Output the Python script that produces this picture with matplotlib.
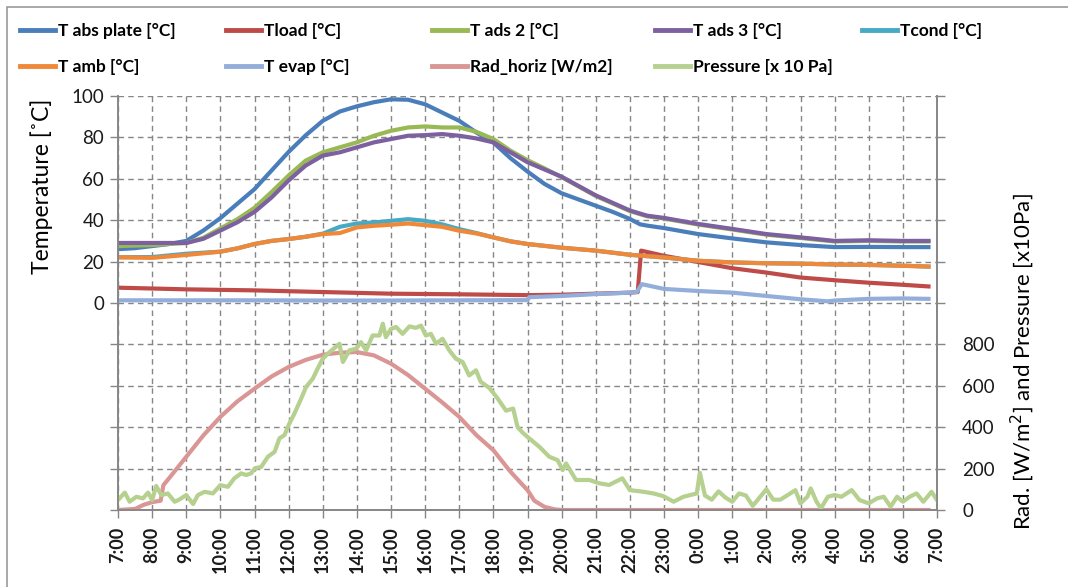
import numpy as np
import matplotlib.pyplot as plt
from matplotlib.patches import Rectangle

plt.rcParams['font.family'] = ['Lato', 'DejaVu Sans']

# time axis: hours elapsed since 7:00
hour_labels = ['7:00', '8:00', '9:00', '10:00', '11:00', '12:00', '13:00', '14:00',
               '15:00', '16:00', '17:00', '18:00', '19:00', '20:00', '21:00', '22:00',
               '23:00', '0:00', '1:00', '2:00', '3:00', '4:00', '5:00', '6:00', '7:00']

# T abs plate [°C]
t_plate = [0, 0.5, 1, 1.5, 2, 2.5, 3, 3.5, 4, 4.5, 5, 5.5, 6, 6.5, 7, 7.5, 8, 8.5, 9, 9.5,
           10, 10.5, 11, 11.5, 12, 12.5, 13, 13.5, 14, 14.5, 15, 15.3, 15.5, 16, 17, 18, 19,
           20, 21, 22, 23, 23.75]
v_plate = [26, 26.5, 27.5, 28.5, 30, 35, 41, 48, 55, 64, 73, 81, 88, 92.5, 95, 97, 98.4, 98.2,
           96, 92, 88, 82.4, 77.5, 70, 63.5, 57.5, 53, 50, 47, 44, 40.6, 38, 37.4, 36.2, 33.3,
           31.2, 29.3, 28, 27, 27.1, 27, 27]

# Tload [°C]
t_load = [0, 2, 4, 6, 8, 10, 12, 13, 14, 15, 15.23, 15.33, 16, 17, 18, 19, 20, 21, 22, 23, 23.75]
v_load = [7.4, 6.6, 6.1, 5.3, 4.5, 4.2, 3.8, 4.0, 4.5, 5.0, 5.3, 25.3, 22.8, 19.8, 16.8, 14.7,
          12.3, 11.0, 9.8, 8.8, 8.0]

# T ads 2 [°C]
t_ads2 = [0, 1, 2, 2.5, 3, 3.5, 4, 4.5, 5, 5.5, 6, 6.5, 7, 7.5, 8, 8.5, 9, 9.5, 10, 10.5, 11,
          11.5, 12, 12.5, 13, 14, 15, 15.5, 16, 17, 18, 19, 20, 21, 22, 23, 23.75]
v_ads2 = [27.5, 28, 29, 31.5, 36, 40.5, 46, 53.6, 61.6, 68.8, 72.8, 75.2, 77.6, 80.8, 83.2,
          84.8, 85.3, 84.8, 84.8, 82.7, 79.2, 73.6, 69, 65, 60.8, 51.7, 44.4, 41.9, 40.8, 37.9,
          35.5, 33, 31.4, 29.7, 30, 29.7, 29.7]

# T ads 3 [°C]
t_ads3 = [0, 1, 2, 2.5, 3, 3.5, 4, 4.5, 5, 5.5, 6, 6.5, 7, 7.5, 8, 8.5, 9, 9.5, 10, 10.5, 11,
          11.5, 12, 12.5, 13, 14, 15, 15.5, 16, 17, 18, 19, 20, 21, 22, 23, 23.75]
v_ads3 = [29, 29, 29, 31, 35, 39, 44, 51, 59.2, 66.4, 71.2, 72.8, 75.2, 77.6, 79.2, 80.8, 81.1,
          81.6, 80.8, 79.5, 77.6, 72.8, 68, 64.5, 61, 52, 44.7, 42.2, 41.1, 38.2, 35.8, 33.3,
          31.7, 30, 30.3, 30, 30]

# T amb [°C] and Tcond [°C]
t_amb = [0, 1, 2, 3, 3.5, 4, 4.5, 5, 5.5, 6, 6.5, 7, 7.5, 8, 8.5, 9, 9.5, 10, 10.5, 11, 11.5,
         12, 13, 14, 15, 16, 17, 18, 19, 20, 21, 22, 23, 23.75]
v_amb = [22.1, 21.8, 23.2, 24.8, 26.4, 28.5, 30, 30.9, 32, 33.3, 33.8, 36.5, 37.3, 37.8, 38.4,
         37.6, 36.8, 34.9, 33.6, 31.7, 29.8, 28.5, 26.7, 25.3, 23.3, 22, 20.4, 19.6, 19.2, 19,
         18.6, 18.4, 18, 17.6]
v_cond = [22.1, 22.2, 23.8, 24.8, 26.4, 28.5, 30, 30.9, 32, 33.5, 36.8, 38.4, 38.9, 39.7, 40.5,
          39.7, 38.0, 35.7, 33.8, 31.7, 29.8, 28.5, 26.7, 25.3, 23.3, 22, 20.4, 19.6, 19.2, 19,
          18.6, 18.4, 18, 17.6]

# T evap [°C]
t_evap = [0, 2, 4, 6, 8, 10, 12, 12.05, 13, 14, 15, 15.2, 15.35, 16, 17, 18, 19, 20, 20.8, 21,
          22, 23, 23.75]
v_evap = [1.3, 1.3, 1.3, 1.2, 1.2, 1.3, 1.4, 2.8, 3.4, 4.3, 5.0, 5.3, 9.1, 6.8, 5.8, 5.0, 3.4,
          1.8, 0.8, 1.2, 2.0, 2.2, 2.0]

# Rad_horiz [W/m2]
t_rad = [0, 0.5, 0.75, 1.0, 1.25, 1.33, 1.5, 2, 2.5, 3, 3.5, 4, 4.5, 5, 5.5, 6, 6.5, 7, 7.5,
         8, 8.5, 9, 9.5, 10, 10.5, 11, 11.5, 12, 12.2, 12.5, 12.8, 13, 23.75]
v_rad = [0, 5, 25, 38, 45, 120, 154, 257, 360, 450, 525, 586, 645, 691, 725, 750, 760, 763,
         747, 707, 652, 586, 520, 450, 362, 289, 185, 96, 45, 15, 3, 0, 0]

# Pressure [x 10 Pa]
t_pres = [0.00, 0.20, 0.34, 0.54, 0.73, 0.88, 1.00, 1.12, 1.27, 1.46, 1.66, 1.80, 2.00, 2.20,
          2.34, 2.54, 2.78, 3.00, 3.22, 3.41, 3.61, 3.76, 3.90, 4.01, 4.20, 4.39, 4.59, 4.73,
          4.88, 5.00, 5.17, 5.37, 5.51, 5.71, 5.85, 6.00, 6.20, 6.49, 6.59, 6.78, 6.98, 7.12,
          7.27, 7.46, 7.66, 7.76, 7.85, 8.00, 8.15, 8.34, 8.54, 8.73, 8.88, 9.02, 9.17, 9.32,
          9.51, 9.71, 9.90, 10.10, 10.29, 10.49, 10.63, 10.88, 11.12, 11.37, 11.58, 11.71,
          11.85, 12.00, 12.35, 12.64, 12.88, 13.03, 13.13, 13.42, 13.81, 14.10, 14.39, 14.78,
          15.00, 15.40, 15.69, 15.98, 16.28, 16.57, 16.96, 17.05, 17.20, 17.40, 17.60, 17.80,
          18.00, 18.20, 18.40, 18.60, 18.80, 19.00, 19.20, 19.41, 19.70, 19.85, 20.00, 20.20,
          20.30, 20.47, 20.60, 20.80, 21.00, 21.20, 21.50, 21.73, 22.00, 22.24, 22.44, 22.64,
          22.83, 23.00, 23.20, 23.40, 23.60, 23.84, 24.00]
v_pres = [48, 84, 40, 64, 56, 84, 48, 116, 72, 80, 40, 51, 72, 29,
          72, 88, 80, 120, 112, 153, 177, 169, 177, 201, 209, 257, 281, 346,
          362, 410, 466, 539, 594, 635, 683, 731, 763, 803, 715, 771, 779, 811,
          771, 843, 843, 900, 835, 875, 884, 851, 887, 880, 891, 843, 851, 803,
          827, 771, 731, 715, 650, 675, 619, 590, 540, 480, 490, 400,
          375, 353, 305, 257, 241, 193, 225, 145, 145, 129, 121, 153,
          96, 88, 80, 67, 40, 64, 80, 180, 70, 50, 90, 60,
          40, 80, 70, 20, 60, 100, 50, 50, 80, 96, 32, 64,
          104, 40, 8, 64, 72, 64, 96, 48, 32, 56, 64, 16,
          64, 40, 64, 80, 40, 88, 48]

fig = plt.figure(figsize=(10.68, 5.87), dpi=100)
ax = fig.add_axes([118 / 1068, 1 - 510 / 587, (937 - 118) / 1068, (510 - 96) / 587])
ax2 = ax.twinx()

lw = 3.0
l_plate, = ax.plot(t_plate, v_plate, color='#4A7EBB', lw=lw, label='T abs plate [°C]')
l_load, = ax.plot(t_load, v_load, color='#BE4B48', lw=lw, label='Tload [°C]')
l_ads2, = ax.plot(t_ads2, v_ads2, color='#98B954', lw=lw, label='T ads 2 [°C]')
l_ads3, = ax.plot(t_ads3, v_ads3, color='#7D60A0', lw=lw, label='T ads 3 [°C]')
l_cond, = ax.plot(t_amb, v_cond, color='#46AAC5', lw=lw, label='Tcond [°C]')
l_amb, = ax.plot(t_amb, v_amb, color='#F0883A', lw=lw, label='T amb [°C]')
l_evap, = ax.plot(t_evap, v_evap, color='#93AEDB', lw=lw, label='T evap [°C]')
l_rad, = ax2.plot(t_rad, v_rad, color='#D99694', lw=lw, label='Rad_horiz [W/m2]')
l_pres, = ax2.plot(t_pres, v_pres, color='#B5D08F', lw=lw, label='Pressure [x 10 Pa]')

grey = '#868686'
ax.set_xlim(0, 24)
ax.set_xticks(np.arange(0, 25))
ax.set_xticklabels(hour_labels, rotation=90, fontsize=13, fontweight='bold')
ax.set_ylim(-100, 100)
ax.set_yticks(np.arange(-100, 101, 20))
ax.set_yticklabels([''] * 5 + [str(v) for v in range(0, 101, 20)], fontsize=13.5)
ax2.set_ylim(0, 2000)
ax2.set_yticks(np.arange(0, 2001, 200))
ax2.set_yticklabels([str(v) for v in range(0, 801, 200)] + [''] * 6, fontsize=13.5)

ax.grid(True, color=grey, linestyle=(0, (4, 3)), lw=1)
ax.set_axisbelow(True)
for a in (ax, ax2):
    a.spines['top'].set_visible(False)
    for s in ('left', 'right', 'bottom'):
        a.spines[s].set_color(grey)
        a.spines[s].set_linewidth(1.2)
    a.tick_params(direction='out', length=6, width=1, color=grey, labelcolor='#1a1a1a')
ax.tick_params(axis='y', pad=4)
ax.tick_params(axis='x', pad=6)
ax2.tick_params(axis='y', pad=12)

fig.text(42 / 1068, 1 - 186 / 587, 'Temperature [˚C]', rotation=90, fontsize=16.5,
         ha='center', va='center')
fig.text(1022 / 1068, 1 - 362 / 587, 'Rad. [W/m$^2$] and Pressure [x10Pa]', rotation=90,
         fontsize=16, ha='center', va='center')

# legend, one column at a time like the spreadsheet layout
columns = [(l_plate, l_amb), (l_load, l_evap), (l_ads2, l_rad), (l_ads3, l_pres), (l_cond,)]
col_x = [20, 226, 432, 655, 862]
for handles, x in zip(columns, col_x):
    leg = fig.legend(handles=list(handles), loc='upper left',
                     bbox_to_anchor=(x / 1068, 1 - 23 / 587), frameon=False,
                     borderpad=0, borderaxespad=0, handlelength=2.0, handletextpad=0.2,
                     labelspacing=1.15, prop={'weight': 'bold', 'size': 12.5})
    for line in leg.get_lines():
        line.set_linewidth(3.5)

fig.patches.append(Rectangle((7 / 1068, -0.1), 1.2, 1.1 - 7 / 587, transform=fig.transFigure,
                             fill=False, edgecolor='#999999', lw=1.2))

fig.savefig('out.png', dpi=100)
